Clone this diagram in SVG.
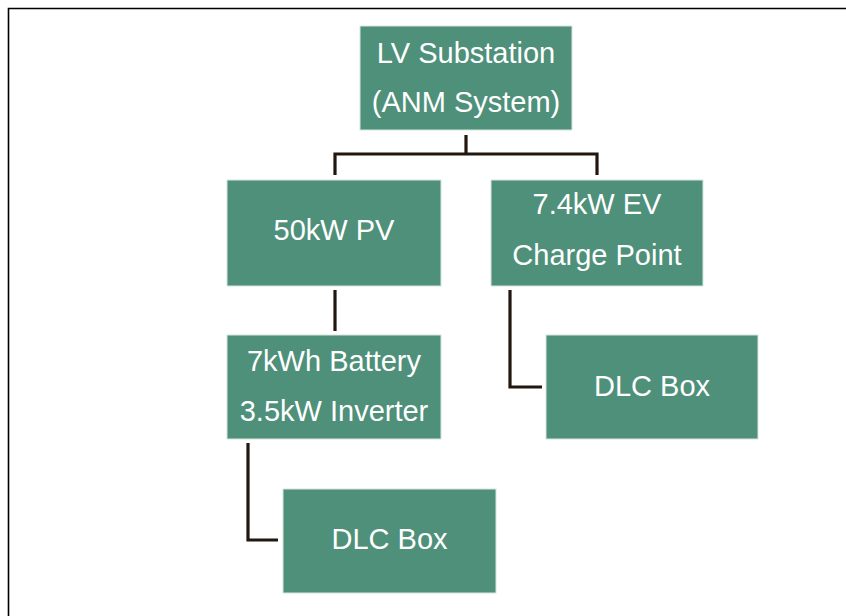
<svg xmlns="http://www.w3.org/2000/svg" width="846" height="616" viewBox="0 0 846 616">
<style>
.box{fill:#4e9079;stroke:#d6e6de;stroke-width:1}
.lbl{font-family:"Liberation Sans",Arial,sans-serif;font-size:29px;fill:#ffffff;text-anchor:middle}
.conn{fill:none;stroke:#22170f;stroke-width:3.2;stroke-linejoin:miter;stroke-linecap:butt}
.frame{fill:none;stroke:#000000;stroke-width:1.6}
</style>
<rect width="846" height="616" fill="#ffffff"/>
<path class="frame" d="M8.5 616 V8.5 H846"/>
<g id="connectors">
<path class="conn" d="M466 135 V154"/>
<path class="conn" d="M335 175 V154 H597 V175"/>
<path class="conn" d="M335 290 V331"/>
<path class="conn" d="M510 290 V387 H542"/>
<path class="conn" d="M248 443 V540 H278"/>
</g>
<g id="lv-substation">
<rect class="box" x="360" y="26" width="212" height="104"/>
<text class="lbl" x="466" y="63">LV Substation</text>
<text class="lbl" x="466" y="112">(ANM System)</text>
</g>
<g id="pv">
<rect class="box" x="227" y="180" width="214" height="106"/>
<text class="lbl" x="334" y="240">50kW PV</text>
</g>
<g id="ev-charge-point">
<rect class="box" x="491" y="180" width="212" height="106"/>
<text class="lbl" x="597" y="214">7.4kW EV</text>
<text class="lbl" x="597" y="265">Charge Point</text>
</g>
<g id="battery">
<rect class="box" x="227" y="335" width="214" height="104"/>
<text class="lbl" x="334" y="371">7kWh Battery</text>
<text class="lbl" x="334" y="421">3.5kW Inverter</text>
</g>
<g id="dlc-box-ev">
<rect class="box" x="546" y="335" width="212" height="104"/>
<text class="lbl" x="652" y="396">DLC Box</text>
</g>
<g id="dlc-box-battery">
<rect class="box" x="283" y="489" width="213" height="104"/>
<text class="lbl" x="389.5" y="549">DLC Box</text>
</g>
</svg>
